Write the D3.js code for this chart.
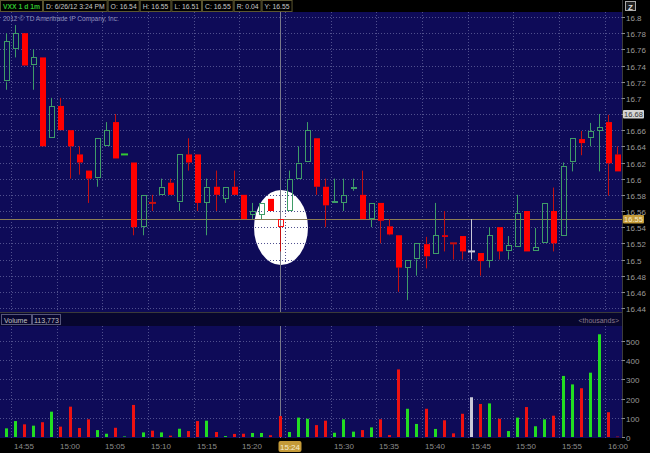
<!DOCTYPE html>
<html><head><meta charset="utf-8">
<script src="https://cdn.jsdelivr.net/npm/d3@7"></script>
<style>body{margin:0;background:#000;}svg{display:block;font-family:"Liberation Sans",Arial,sans-serif;}</style>
</head><body><svg id="c" width="650" height="453"></svg>
<script>
// ---- data ----
const firstMinute = -1; // first bar = 14:54 (minutes after 14:55)
const opens  = [16.72,16.76,16.78,16.74,16.75,16.65,16.69,16.66,16.63,16.61,16.60,16.64,16.67,16.63,16.62,16.54,16.57,16.58,16.595,16.57,16.63,16.63,16.57,16.59,16.575,16.59,16.58,16.555,16.555,16.575,16.54,16.56,16.60,16.62,16.65,16.59,16.57,16.57,16.588,16.58,16.55,16.57,16.541,16.53,16.49,16.50,16.519,16.507,16.53,16.52,16.529,16.51,16.508,16.498,16.54,16.51,16.515,16.56,16.51,16.52,16.56,16.529,16.62,16.649,16.65,16.659,16.67,16.63];
const highs  = [16.78,16.79,16.78,16.76,16.75,16.70,16.70,16.66,16.64,16.61,16.65,16.67,16.68,16.63,16.62,16.58,16.58,16.60,16.60,16.63,16.65,16.63,16.60,16.61,16.59,16.61,16.58,16.57,16.57,16.575,16.55,16.61,16.64,16.67,16.65,16.60,16.60,16.60,16.60,16.61,16.57,16.57,16.55,16.53,16.50,16.52,16.528,16.57,16.56,16.52,16.529,16.55,16.508,16.54,16.54,16.529,16.58,16.56,16.539,16.57,16.589,16.62,16.65,16.659,16.669,16.68,16.679,16.64];
const lows   = [16.71,16.75,16.74,16.71,16.64,16.65,16.66,16.60,16.605,16.57,16.59,16.64,16.625,16.63,16.53,16.53,16.56,16.58,16.58,16.56,16.61,16.56,16.53,16.56,16.57,16.58,16.55,16.55,16.55,16.56,16.51,16.56,16.60,16.62,16.58,16.54,16.57,16.56,16.585,16.55,16.54,16.52,16.53,16.46,16.45,16.48,16.489,16.507,16.51,16.50,16.50,16.50,16.48,16.49,16.50,16.50,16.515,16.51,16.51,16.52,16.51,16.529,16.609,16.629,16.64,16.609,16.579,16.609];
const closes = [16.77,16.78,16.74,16.75,16.64,16.69,16.66,16.64,16.62,16.60,16.65,16.66,16.625,16.63,16.54,16.58,16.57,16.59,16.58,16.63,16.62,16.57,16.59,16.58,16.59,16.58,16.55,16.56,16.57,16.56,16.55,16.60,16.62,16.66,16.59,16.567,16.572,16.58,16.59,16.55,16.57,16.548,16.531,16.49,16.50,16.52,16.504,16.53,16.528,16.519,16.51,16.51,16.498,16.53,16.51,16.518,16.557,16.51,16.515,16.57,16.52,16.616,16.65,16.644,16.659,16.664,16.619,16.609];
const volumes = [45,83,66,59,77,132,54,158,47,92,36,17,48,3,167,24,33,24,7,43,31,83,85,26,5,16,17,21,21,9,109,26,101,95,62,85,22,92,28,36,50,92,10,352,147,68,147,42,87,19,121,207,172,175,95,31,101,156,56,92,111,318,274,254,335,535,129,2];
const priceTicks = [16.44,16.46,16.48,16.5,16.52,16.54,16.56,16.58,16.6,16.62,16.64,16.66,16.68,16.7,16.72,16.74,16.76,16.78,16.8];
const volumeTicks = [0,100,200,300,400,500];
const timeTickMinutes = [0,5,10,15,20,25,30,35,40,45,50,55,60,65];
const timeTickLabels = ["14:55","15:00","15:05","15:10","15:15","15:20","","15:30","15:35","15:40","15:45","15:50","15:55","16:00"];
const headerFields = ["D: 6/26/12 3:24 PM","O: 16.54","H: 16.55","L: 16.51","C: 16.55","R: 0.04","Y: 16.55"];
const cursorIndex = 30, cursorLabel = "15:24", cursorPrice = 16.55, markPrice = 16.68;

// ---- layout ----
const svg = d3.select("#c");
const plotR = 622, pTop = 12, pBot = 312, vTop = 326, vBot = 438;
const x = d3.scaleLinear().domain([0,65]).range([11.2,604.6]);
const y = d3.scaleLinear().domain([16.44,16.8]).range([308,17]);
const yv = d3.scaleLinear().domain([0,500]).range([437,341]);
const cx = i => x(firstMinute + i + 0.5);
const BG = "#0e0b58", GRID = "#50508e";

svg.append("rect").attr("width",650).attr("height",453).attr("fill","#000");
svg.append("rect").attr("x",0).attr("y",pTop).attr("width",plotR).attr("height",pBot-pTop).attr("fill",BG);
svg.append("rect").attr("x",0).attr("y",vTop).attr("width",plotR).attr("height",vBot-vTop).attr("fill",BG);
svg.append("rect").attr("x",0).attr("y",pBot+1).attr("width",plotR).attr("height",vTop-pBot-1).attr("fill","#07062e");
svg.append("line").attr("x1",0).attr("x2",plotR).attr("y1",pBot+0.5).attr("y2",pBot+0.5).attr("stroke","#3a3a3a");

// highlight ellipse
svg.append("ellipse").attr("cx",281).attr("cy",227.5).attr("rx",27).attr("ry",37.5).attr("fill","#fff");

// grids
const g = svg.append("g").attr("stroke",GRID).attr("stroke-dasharray","1,2").attr("stroke-width",1);
priceTicks.forEach(p=>{const yy=Math.round(y(p))+0.5;g.append("line").attr("x1",0).attr("x2",plotR).attr("y1",yy).attr("y2",yy);});
volumeTicks.slice(1).forEach(v=>{const yy=Math.round(yv(v))+0.5;g.append("line").attr("x1",0).attr("x2",plotR).attr("y1",yy).attr("y2",yy);});
timeTickMinutes.forEach(m=>{const xx=Math.round(x(m))+0.5;
  g.append("line").attr("x1",xx).attr("x2",xx).attr("y1",pTop).attr("y2",pBot);
  g.append("line").attr("x1",xx).attr("x2",xx).attr("y1",vTop).attr("y2",vBot);});

// cursor lines
const cX = Math.round(cx(cursorIndex))-0.5;
svg.append("line").attr("x1",cX).attr("x2",cX).attr("y1",pTop).attr("y2",pBot).attr("stroke","#7a7a8a");
svg.append("line").attr("x1",cX).attr("x2",cX).attr("y1",vTop).attr("y2",vBot).attr("stroke","#7a7a8a");
const cY = Math.round(y(cursorPrice))+0.5;
svg.append("line").attr("x1",0).attr("x2",plotR).attr("y1",cY).attr("y2",cY).attr("stroke","#8c7d55");

// direction vs previous close
const dir = closes.map((c,i)=> i===0 ? 1 : (c>closes[i-1]?1:(c<closes[i-1]?-1:0)));
const COL = {1:{line:"#3f9c68",fill:"#33c833",vol:"#22dd22"},"-1":{line:"#c41010",fill:"#ff0000",vol:"#ee1111"},0:{line:"#c8c8d8",fill:"#c8c8d8",vol:"#c8c8d8"}};

// candles
const cg = svg.append("g");
closes.forEach((c,i)=>{
  const o=opens[i], h=highs[i], l=lows[i], col=COL[dir[i]];
  const xc=Math.round(cx(i)), xl=xc-0.5;
  const yTop=y(Math.max(o,c)), yBotB=y(Math.min(o,c));
  const bodyH=yBotB-yTop;
  if (y(h) < yTop) cg.append("line").attr("x1",xl).attr("x2",xl).attr("y1",y(h)).attr("y2",yTop).attr("stroke",col.line);
  if (y(l) > yBotB) cg.append("line").attr("x1",xl).attr("x2",xl).attr("y1",yBotB).attr("y2",y(l)).attr("stroke",col.line);
  if (bodyH < 1.5) {
    cg.append("rect").attr("x",xc-4).attr("y",yTop-1).attr("width",7).attr("height",2).attr("fill",dir[i]===1?col.fill:col.line);
  } else if (c < o) {
    cg.append("rect").attr("x",xc-3).attr("y",yTop).attr("width",6).attr("height",bodyH).attr("fill",col.fill);
  } else {
    cg.append("rect").attr("x",xc-3+0.5).attr("y",Math.round(yTop)+0.5).attr("width",5).attr("height",Math.max(1,Math.round(bodyH)-1))
      .attr("fill","none").attr("stroke",dir[i]===-1?"#ff1010":col.line);
  }
});

// volume bars
const vg = svg.append("g");
volumes.forEach((v,i)=>{
  const xc=Math.round(cx(i));
  vg.append("rect").attr("x",xc-2).attr("y",yv(v)).attr("width",3).attr("height",Math.max(0.5,yv(0)-yv(v))).attr("fill",COL[dir[i]].vol);
});

// right axis
svg.append("line").attr("x1",plotR+0.5).attr("x2",plotR+0.5).attr("y1",0).attr("y2",vBot).attr("stroke","#3c3c3c");
const ax = svg.append("g").attr("font-size",8).attr("fill","#9a9a9a");
priceTicks.forEach(p=>{const yy=Math.round(y(p))+0.5;
  svg.append("line").attr("x1",plotR).attr("x2",plotR+3).attr("y1",yy).attr("y2",yy).attr("stroke","#8a8a8a");
  if (Math.abs(p-markPrice) > 0.005) ax.append("text").attr("x",plotR+4).attr("y",yy+3).text(d3.format("")(p));});
volumeTicks.forEach(v=>{const yy=Math.round(yv(v))+0.5;
  svg.append("line").attr("x1",plotR).attr("x2",plotR+3).attr("y1",yy).attr("y2",yy).attr("stroke","#8a8a8a");
  ax.append("text").attr("x",plotR+4).attr("y",yy+3).text(v);});
function priceBox(p,bg,fg){const yy=Math.round(y(p));
  svg.append("rect").attr("x",plotR+1).attr("y",yy-4).attr("width",21).attr("height",8.5).attr("fill",bg).attr("rx",1);
  svg.append("text").attr("x",plotR+11.5).attr("y",yy+3).attr("text-anchor","middle").attr("font-size",7.5).attr("fill",fg).text(d3.format(".2f")(p));}
priceBox(markPrice,"#d4d4d4","#333");
priceBox(cursorPrice,"#c49a38","#f4ecd0");
svg.append("rect").attr("x",625.5).attr("y",1.5).attr("width",10).attr("height",9).attr("fill","#222").attr("stroke","#aaa");
svg.append("text").attr("x",630.5).attr("y",9.5).attr("text-anchor","middle").attr("font-size",8).attr("font-weight","bold").attr("fill","#ddd").text("Z");

// time axis
const ta = svg.append("g").attr("font-size",8).attr("fill","#8c8c8c");
timeTickMinutes.forEach((m,k)=>{ if(timeTickLabels[k]) ta.append("text").attr("x",Math.round(x(m))+3).attr("y",449).text(timeTickLabels[k]);});
svg.append("rect").attr("x",cX-2).attr("y",441).attr("width",23).attr("height",11).attr("rx",2).attr("fill","#c49a38");
svg.append("text").attr("x",cX+9.5).attr("y",449.5).attr("text-anchor","middle").attr("font-size",8).attr("fill","#f4ecd0").text(cursorLabel);

// header (boxes sized from measured text)
svg.append("rect").attr("x",0).attr("y",0).attr("width",plotR).attr("height",pTop).attr("fill","#000");
const hdr = svg.append("g");
let hx = 0;
function hbox(t, color, bold){
  const tx = hdr.append("text").attr("x",hx+3).attr("y",9).attr("font-size",6.8).attr("fill",color).attr("font-weight",bold?"bold":"normal").text(t);
  const w = tx.node().getComputedTextLength();
  hdr.insert("rect","text").attr("x",hx+0.5).attr("y",0.5).attr("width",w+5).attr("height",11).attr("fill","#000").attr("stroke","#5c5630");
  hx += w+6;
}
hbox("VXX 1 d 1m","#2fc02f",true);
headerFields.forEach(t=>hbox(t,"#c8c8c8",false));
svg.append("text").attr("x",3).attr("y",21).attr("font-size",6.5).attr("fill","#8d8db8").text("2012 © TD Ameritrade IP Company, Inc.");

// volume header
[[0,31],[31,60]].forEach(b=>svg.append("rect").attr("x",b[0]+1.5).attr("y",pBot+2.5).attr("width",b[1]-b[0]-1).attr("height",10).attr("fill","none").attr("stroke","#55557a"));
svg.append("text").attr("x",4).attr("y",pBot+10.5).attr("font-size",7).attr("fill","#c0c0c0").text("Volume");
svg.append("text").attr("x",34).attr("y",pBot+10.5).attr("font-size",7).attr("fill","#c0c0c0").text("113,773");
svg.append("text").attr("x",619).attr("y",pBot+10.5).attr("text-anchor","end").attr("font-size",7).attr("fill","#8a7a8a").text("<thousands>");
</script></body></html>
